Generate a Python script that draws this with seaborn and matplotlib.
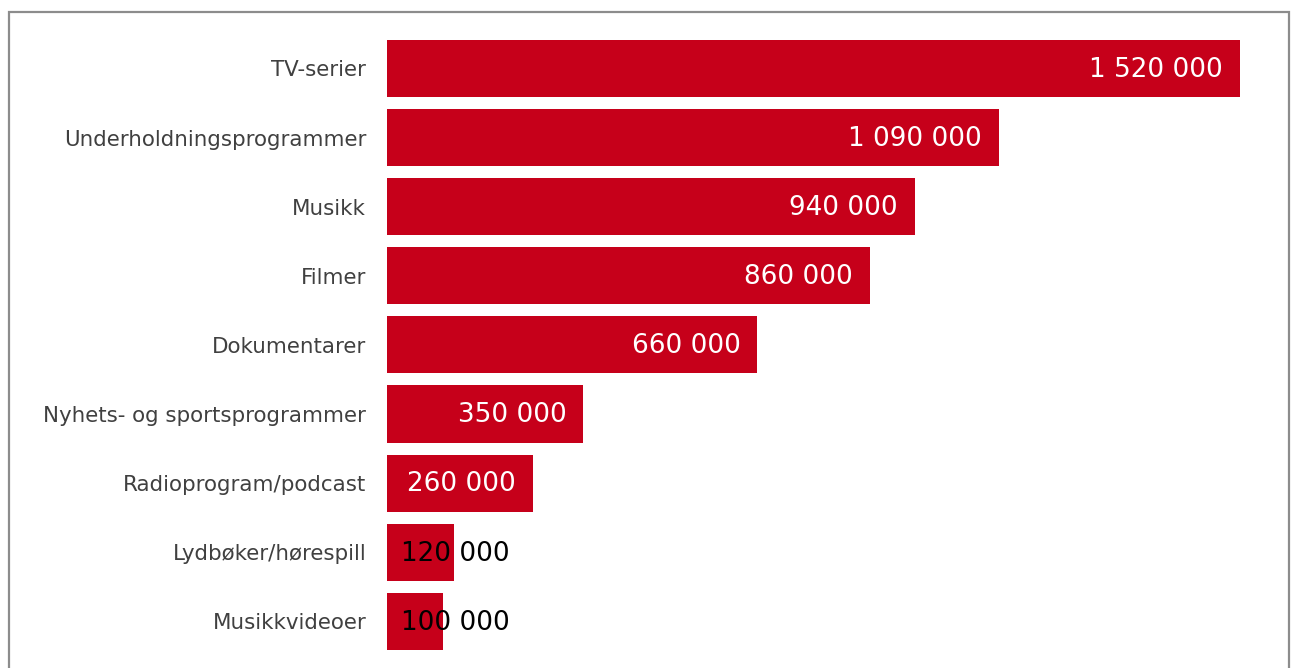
import matplotlib
matplotlib.use("Agg")
import matplotlib.pyplot as plt
import seaborn as sns
import pandas as pd
from matplotlib.patches import Rectangle

categories = [
    "TV-serier",
    "Underholdningsprogrammer",
    "Musikk",
    "Filmer",
    "Dokumentarer",
    "Nyhets- og sportsprogrammer",
    "Radioprogram/podcast",
    "Lydbøker/hørespill",
    "Musikkvideoer",
]
values = [1520000, 1090000, 940000, 860000, 660000, 350000, 260000, 120000, 100000]

BAR_RED = "#C6001A"

sns.set_theme(style="white")
plt.rcParams["font.family"] = ["DejaVu Sans"]

df = pd.DataFrame({"kategori": categories, "antall": values})

fig = plt.figure(figsize=(12.94, 6.68), dpi=100)
ax = fig.add_axes([387 / 1294, 12.15 / 668, 898 / 1294, 621.9 / 668])

sns.barplot(data=df, x="antall", y="kategori", orient="h", color=BAR_RED,
            saturation=1, width=0.825, linewidth=0, ax=ax)

ax.set_xlim(0, 1.6e6)
ax.set_ylim(8.5, -0.5)
ax.set_xlabel("")
ax.set_ylabel("")
ax.set_xticks([])
for s in ax.spines.values():
    s.set_visible(False)
ax.tick_params(axis="y", length=0, pad=15, labelsize=15.4, labelcolor="#404040")

for i, v in enumerate(values):
    txt = f"{v:,}".replace(",", " ")
    if v >= 200000:
        ax.annotate(txt, xy=(v, i), xytext=(-12.2, -1), textcoords="offset points",
                    ha="right", va="center", color="white", fontsize=18.9)
    else:
        ax.annotate(txt, xy=(0, i), xytext=(10.2, -1), textcoords="offset points",
                    ha="left", va="center", color="black", fontsize=18.9)

# outer frame
fig.patches.append(Rectangle((9 / 1294, -0.05), 1280 / 1294, 1.05 - 12 / 668,
                             transform=fig.transFigure, fill=False,
                             edgecolor="#8c8c8c", linewidth=1.6))

fig.savefig("out.png", dpi=100)
